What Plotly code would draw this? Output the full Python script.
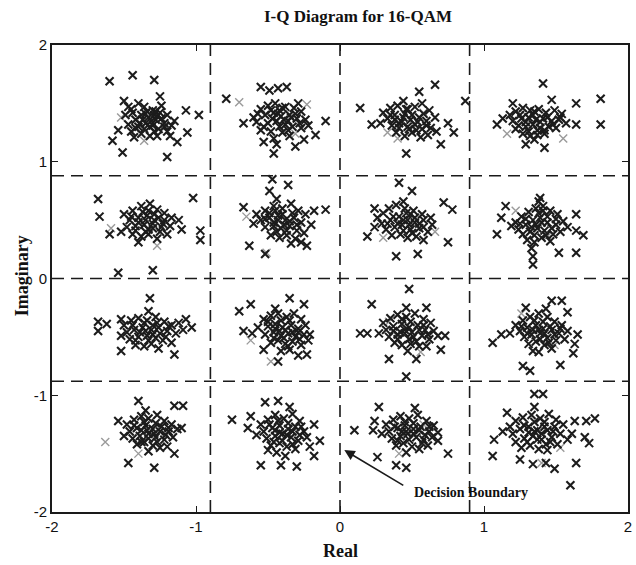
import plotly.graph_objects as go

# Received symbols (I, Q), grouped by the ideal 16-QAM point they belong to
sym_m3_p3 = [(-1.60, 1.69), (-1.44, 1.74), (-1.29, 1.70), (-1.51, 1.08), (-1.20, 1.04), (-1.58, 1.18),
             (-1.54, 1.27), (-0.98, 1.40), (-1.07, 1.44), (-1.06, 1.25), (-1.13, 1.17), (-1.50, 1.52),
             (-1.47, 1.47), (-1.25, 1.56),
             (-1.45, 1.45), (-1.40, 1.50), (-1.36, 1.47), (-1.30, 1.44), (-1.25, 1.42), (-1.20, 1.40),
             (-1.38, 1.40), (-1.33, 1.38), (-1.28, 1.36), (-1.22, 1.33), (-1.17, 1.31), (-1.42, 1.36),
             (-1.47, 1.32), (-1.40, 1.30), (-1.35, 1.33), (-1.30, 1.31), (-1.26, 1.28), (-1.20, 1.26),
             (-1.45, 1.26), (-1.38, 1.24), (-1.32, 1.22), (-1.27, 1.22), (-1.15, 1.35), (-1.34, 1.43),
             (-1.24, 1.48), (-1.49, 1.40), (-1.43, 1.21), (-1.29, 1.40), (-1.36, 1.28), (-1.18, 1.22),
             (-1.35, 1.41), (-1.31, 1.35), (-1.27, 1.39), (-1.39, 1.33), (-1.29, 1.26), (-1.24, 1.37),
             (-1.42, 1.29), (-1.32, 1.30), (-1.37, 1.36), (-1.22, 1.30), (-1.28, 1.43), (-1.44, 1.42)]
sym_m1_p3 = [(-0.79, 1.54), (-0.55, 1.64), (-0.49, 1.61), (-0.43, 1.63), (-0.37, 1.64), (-0.10, 1.35),
             (-0.17, 1.23), (-0.53, 1.17), (-0.44, 1.15), (-0.46, 1.07), (-0.31, 1.13), (-0.25, 1.19),
             (-0.67, 1.33),
             (-0.55, 1.45), (-0.50, 1.48), (-0.45, 1.50), (-0.38, 1.47), (-0.32, 1.46), (-0.27, 1.43),
             (-0.52, 1.40), (-0.46, 1.42), (-0.41, 1.39), (-0.35, 1.40), (-0.30, 1.37), (-0.24, 1.36),
             (-0.58, 1.34), (-0.50, 1.33), (-0.44, 1.35), (-0.38, 1.32), (-0.33, 1.30), (-0.27, 1.29),
             (-0.55, 1.27), (-0.48, 1.26), (-0.40, 1.25), (-0.35, 1.22), (-0.60, 1.38), (-0.42, 1.44),
             (-0.29, 1.50), (-0.22, 1.31), (-0.46, 1.20), (-0.36, 1.35),
             (-0.43, 1.41), (-0.39, 1.36), (-0.34, 1.38), (-0.47, 1.37), (-0.36, 1.27), (-0.31, 1.41),
             (-0.53, 1.30), (-0.42, 1.30), (-0.48, 1.44), (-0.28, 1.33), (-0.40, 1.46), (-0.57, 1.41)]
sym_p1_p3 = [(0.14, 1.46), (0.22, 1.32), (0.66, 1.66), (0.55, 1.60), (0.79, 1.25), (0.70, 1.15),
             (0.46, 1.07), (0.87, 1.52), (0.75, 1.33),
             (0.30, 1.42), (0.35, 1.46), (0.40, 1.48), (0.46, 1.45), (0.52, 1.47), (0.57, 1.50),
             (0.62, 1.44), (0.33, 1.37), (0.38, 1.40), (0.44, 1.38), (0.49, 1.36), (0.55, 1.38),
             (0.60, 1.35), (0.66, 1.38), (0.36, 1.31), (0.41, 1.33), (0.47, 1.30), (0.52, 1.32),
             (0.57, 1.28), (0.63, 1.29), (0.39, 1.25), (0.45, 1.22), (0.50, 1.25), (0.56, 1.21),
             (0.61, 1.23), (0.28, 1.33), (0.44, 1.52), (0.67, 1.26),
             (0.45, 1.41), (0.50, 1.40), (0.54, 1.34), (0.43, 1.34), (0.48, 1.28), (0.58, 1.41),
             (0.38, 1.36), (0.53, 1.27), (0.41, 1.29), (0.60, 1.31), (0.47, 1.45), (0.35, 1.40)]
sym_p3_p3 = [(1.41, 1.67), (1.81, 1.54), (1.81, 1.32), (1.64, 1.50), (1.64, 1.32), (1.20, 1.50),
             (1.09, 1.32), (1.29, 1.15), (1.42, 1.12), (1.47, 1.53),
             (1.18, 1.40), (1.22, 1.43), (1.27, 1.46), (1.32, 1.44), (1.38, 1.45), (1.43, 1.42),
             (1.49, 1.44), (1.54, 1.41), (1.20, 1.35), (1.26, 1.37), (1.31, 1.38), (1.36, 1.36),
             (1.41, 1.37), (1.47, 1.35), (1.52, 1.36), (1.24, 1.31), (1.29, 1.30), (1.34, 1.32),
             (1.39, 1.29), (1.45, 1.30), (1.50, 1.29), (1.27, 1.24), (1.32, 1.22), (1.37, 1.23),
             (1.42, 1.24), (1.13, 1.37), (1.57, 1.33), (1.35, 1.19),
             (1.34, 1.40), (1.39, 1.34), (1.44, 1.38), (1.29, 1.34), (1.37, 1.27), (1.48, 1.32),
             (1.25, 1.40), (1.42, 1.27), (1.31, 1.26), (1.53, 1.38), (1.35, 1.43), (1.22, 1.28)]
sym_m3_p1 = [(-1.68, 0.68), (-1.67, 0.53), (-1.02, 0.69), (-1.54, 0.05), (-1.30, 0.07), (-1.60, 0.38),
             (-0.97, 0.41), (-0.97, 0.33),
             (-1.50, 0.55), (-1.44, 0.58), (-1.38, 0.62), (-1.32, 0.64), (-1.27, 0.59), (-1.22, 0.56),
             (-1.17, 0.52), (-1.46, 0.50), (-1.40, 0.52), (-1.34, 0.54), (-1.29, 0.50), (-1.23, 0.47),
             (-1.18, 0.45), (-1.12, 0.50), (-1.48, 0.44), (-1.42, 0.45), (-1.36, 0.46), (-1.30, 0.43),
             (-1.25, 0.40), (-1.20, 0.38), (-1.44, 0.38), (-1.38, 0.36), (-1.33, 0.38), (-1.27, 0.34),
             (-1.40, 0.31), (-1.52, 0.40), (-1.10, 0.42), (-1.33, 0.58),
             (-1.35, 0.50), (-1.30, 0.47), (-1.26, 0.52), (-1.40, 0.48), (-1.33, 0.42), (-1.24, 0.44),
             (-1.45, 0.53), (-1.37, 0.57), (-1.29, 0.55), (-1.22, 0.50), (-1.42, 0.41), (-1.35, 0.40)]
sym_m1_p1 = [(-0.47, 0.85), (-0.36, 0.80), (-0.49, 0.75), (-0.10, 0.59), (-0.18, 0.58), (-0.63, 0.28),
             (-0.52, 0.21), (-0.67, 0.61), (-0.23, 0.28),
             (-0.58, 0.55), (-0.52, 0.58), (-0.46, 0.62), (-0.40, 0.60), (-0.34, 0.64), (-0.29, 0.58),
             (-0.24, 0.55), (-0.55, 0.50), (-0.49, 0.52), (-0.43, 0.54), (-0.38, 0.50), (-0.32, 0.52),
             (-0.27, 0.48), (-0.20, 0.46), (-0.52, 0.44), (-0.46, 0.45), (-0.41, 0.43), (-0.35, 0.45),
             (-0.30, 0.41), (-0.25, 0.39), (-0.48, 0.37), (-0.42, 0.35), (-0.37, 0.37), (-0.31, 0.34),
             (-0.27, 0.31), (-0.60, 0.47), (-0.44, 0.68), (-0.34, 0.30),
             (-0.43, 0.50), (-0.39, 0.46), (-0.35, 0.49), (-0.46, 0.48), (-0.40, 0.55), (-0.33, 0.56),
             (-0.49, 0.56), (-0.44, 0.40), (-0.37, 0.41), (-0.30, 0.46), (-0.52, 0.51), (-0.45, 0.58)]
sym_p1_p1 = [(0.41, 0.82), (0.50, 0.75), (0.19, 0.36), (0.78, 0.59), (0.72, 0.65), (0.39, 0.19),
             (0.54, 0.21), (0.75, 0.31), (0.24, 0.60),
             (0.26, 0.52), (0.30, 0.56), (0.34, 0.60), (0.39, 0.63), (0.45, 0.60), (0.51, 0.58),
             (0.57, 0.55), (0.63, 0.52), (0.29, 0.47), (0.35, 0.50), (0.41, 0.53), (0.47, 0.50),
             (0.52, 0.48), (0.58, 0.50), (0.64, 0.46), (0.32, 0.42), (0.38, 0.44), (0.43, 0.46),
             (0.49, 0.42), (0.55, 0.43), (0.61, 0.40), (0.36, 0.37), (0.42, 0.38), (0.47, 0.35),
             (0.53, 0.36), (0.24, 0.44), (0.44, 0.66), (0.58, 0.33),
             (0.44, 0.50), (0.48, 0.46), (0.52, 0.52), (0.40, 0.47), (0.46, 0.56), (0.55, 0.47),
             (0.37, 0.53), (0.44, 0.41), (0.50, 0.39), (0.58, 0.44), (0.33, 0.47), (0.49, 0.55)]
sym_p3_p1 = [(1.09, 0.38), (1.12, 0.52), (1.15, 0.62), (1.39, 0.69), (1.64, 0.55), (1.64, 0.41),
             (1.69, 0.37), (1.52, 0.22), (1.64, 0.22), (1.34, 0.12), (1.34, 0.19),
             (1.22, 0.48), (1.26, 0.53), (1.31, 0.57), (1.36, 0.60), (1.41, 0.62), (1.46, 0.58),
             (1.51, 0.55), (1.24, 0.42), (1.29, 0.46), (1.34, 0.50), (1.39, 0.52), (1.44, 0.48),
             (1.50, 0.46), (1.55, 0.49), (1.27, 0.38), (1.32, 0.40), (1.37, 0.43), (1.42, 0.41),
             (1.48, 0.38), (1.53, 0.40), (1.30, 0.33), (1.35, 0.31), (1.40, 0.35), (1.46, 0.32),
             (1.33, 0.26), (1.19, 0.45), (1.58, 0.44), (1.38, 0.66),
             (1.36, 0.46), (1.40, 0.48), (1.44, 0.53), (1.33, 0.44), (1.38, 0.56), (1.47, 0.43),
             (1.29, 0.51), (1.35, 0.37), (1.43, 0.37), (1.50, 0.51), (1.25, 0.47), (1.41, 0.58)]
sym_m3_m1 = [(-1.32, -0.17), (-1.68, -0.37), (-1.68, -0.45), (-1.62, -0.39), (-1.52, -0.62),
             (-1.03, -0.42), (-1.07, -0.35), (-1.15, -0.65), (-1.52, -0.35),
             (-1.50, -0.40), (-1.45, -0.36), (-1.40, -0.34), (-1.34, -0.36), (-1.28, -0.33),
             (-1.22, -0.37), (-1.17, -0.40), (-1.12, -0.38), (-1.48, -0.46), (-1.43, -0.44),
             (-1.37, -0.42), (-1.31, -0.44), (-1.26, -0.42), (-1.20, -0.45), (-1.14, -0.47),
             (-1.46, -0.52), (-1.40, -0.50), (-1.34, -0.49), (-1.28, -0.51), (-1.23, -0.53),
             (-1.17, -0.55), (-1.42, -0.57), (-1.36, -0.58), (-1.31, -0.56), (-1.26, -0.60),
             (-1.52, -0.49), (-1.09, -0.44), (-1.33, -0.28),
             (-1.35, -0.45), (-1.30, -0.48), (-1.25, -0.47), (-1.39, -0.46), (-1.33, -0.53),
             (-1.21, -0.50), (-1.44, -0.40), (-1.36, -0.38), (-1.27, -0.38), (-1.19, -0.41),
             (-1.42, -0.53), (-1.30, -0.40)]
sym_m1_m1 = [(-0.70, -0.28), (-0.62, -0.22), (-0.35, -0.17), (-0.25, -0.22), (-0.67, -0.45),
             (-0.61, -0.47), (-0.43, -0.71), (-0.29, -0.66), (-0.53, -0.61), (-0.21, -0.48),
             (-0.23, -0.65),
             (-0.53, -0.35), (-0.48, -0.32), (-0.43, -0.30), (-0.37, -0.33), (-0.32, -0.30),
             (-0.27, -0.35), (-0.50, -0.41), (-0.45, -0.39), (-0.40, -0.42), (-0.34, -0.40),
             (-0.29, -0.43), (-0.24, -0.40), (-0.52, -0.48), (-0.46, -0.46), (-0.41, -0.49),
             (-0.36, -0.47), (-0.31, -0.50), (-0.25, -0.48), (-0.48, -0.55), (-0.43, -0.53),
             (-0.38, -0.56), (-0.33, -0.54), (-0.27, -0.57), (-0.41, -0.62), (-0.35, -0.61),
             (-0.57, -0.42), (-0.22, -0.53), (-0.45, -0.26),
             (-0.42, -0.45), (-0.38, -0.44), (-0.33, -0.46), (-0.45, -0.43), (-0.39, -0.51),
             (-0.29, -0.46), (-0.50, -0.37), (-0.41, -0.36), (-0.35, -0.36), (-0.28, -0.52),
             (-0.46, -0.51), (-0.36, -0.58)]
sym_p1_m1 = [(0.48, -0.09), (0.22, -0.22), (0.14, -0.47), (0.19, -0.47), (0.68, -0.49), (0.73, -0.49),
             (0.46, -0.84), (0.34, -0.69), (0.53, -0.69), (0.60, -0.25), (0.70, -0.61),
             (0.30, -0.38), (0.35, -0.34), (0.40, -0.31), (0.46, -0.33), (0.52, -0.30), (0.58, -0.35),
             (0.63, -0.38), (0.32, -0.44), (0.37, -0.41), (0.43, -0.39), (0.48, -0.42), (0.54, -0.40),
             (0.59, -0.44), (0.65, -0.45), (0.34, -0.50), (0.40, -0.48), (0.45, -0.47), (0.51, -0.50),
             (0.57, -0.49), (0.62, -0.52), (0.38, -0.55), (0.43, -0.57), (0.49, -0.56), (0.55, -0.58),
             (0.47, -0.62), (0.27, -0.47), (0.46, -0.25), (0.60, -0.58),
             (0.45, -0.44), (0.50, -0.46), (0.55, -0.44), (0.42, -0.46), (0.48, -0.52), (0.58, -0.40),
             (0.37, -0.45), (0.43, -0.35), (0.49, -0.37), (0.53, -0.54), (0.61, -0.48), (0.40, -0.52)]
sym_p3_m1 = [(1.06, -0.55), (1.12, -0.48), (1.29, -0.25), (1.47, -0.19), (1.54, -0.19), (1.58, -0.29),
             (1.65, -0.48), (1.63, -0.56), (1.62, -0.64), (1.53, -0.74), (1.32, -0.79), (1.27, -0.75),
             (1.22, -0.40), (1.27, -0.36), (1.32, -0.33), (1.38, -0.30), (1.44, -0.33), (1.49, -0.37),
             (1.54, -0.40), (1.25, -0.45), (1.30, -0.42), (1.36, -0.40), (1.41, -0.43), (1.47, -0.44),
             (1.52, -0.47), (1.58, -0.45), (1.28, -0.50), (1.33, -0.48), (1.39, -0.47), (1.44, -0.51),
             (1.50, -0.53), (1.31, -0.56), (1.36, -0.54), (1.42, -0.57), (1.47, -0.60), (1.38, -0.63),
             (1.18, -0.47), (1.43, -0.26), (1.56, -0.52), (1.34, -0.62),
             (1.38, -0.44), (1.42, -0.47), (1.46, -0.41), (1.34, -0.44), (1.39, -0.52), (1.49, -0.48),
             (1.30, -0.47), (1.35, -0.36), (1.41, -0.37), (1.45, -0.55), (1.26, -0.41), (1.53, -0.43)]
sym_m3_m3 = [(-1.40, -1.05), (-1.09, -1.09), (-1.15, -1.09), (-1.10, -1.28), (-1.47, -1.58),
             (-1.29, -1.62), (-1.54, -1.22), (-1.15, -1.50),
             (-1.48, -1.25), (-1.43, -1.21), (-1.38, -1.18), (-1.33, -1.20), (-1.27, -1.17),
             (-1.22, -1.22), (-1.17, -1.25), (-1.46, -1.31), (-1.41, -1.28), (-1.35, -1.26),
             (-1.30, -1.29), (-1.24, -1.27), (-1.19, -1.31), (-1.13, -1.29), (-1.44, -1.37),
             (-1.39, -1.35), (-1.33, -1.33), (-1.28, -1.36), (-1.22, -1.38), (-1.16, -1.36),
             (-1.41, -1.42), (-1.36, -1.40), (-1.30, -1.43), (-1.25, -1.45), (-1.33, -1.48),
             (-1.50, -1.35), (-1.20, -1.44), (-1.35, -1.13),
             (-1.34, -1.30), (-1.29, -1.33), (-1.25, -1.31), (-1.38, -1.30), (-1.33, -1.37),
             (-1.21, -1.34), (-1.43, -1.26), (-1.36, -1.23), (-1.28, -1.24), (-1.19, -1.28),
             (-1.38, -1.40), (-1.27, -1.40)]
sym_m1_m3 = [(-0.75, -1.21), (-0.52, -1.06), (-0.43, -1.05), (-0.64, -1.28), (-0.18, -1.25),
             (-0.14, -1.39), (-0.18, -1.52), (-0.55, -1.60), (-0.41, -1.60), (-0.30, -1.61),
             (-0.62, -1.18),
             (-0.55, -1.25), (-0.50, -1.21), (-0.45, -1.17), (-0.39, -1.20), (-0.33, -1.16),
             (-0.28, -1.22), (-0.53, -1.31), (-0.47, -1.28), (-0.42, -1.26), (-0.36, -1.29),
             (-0.31, -1.27), (-0.25, -1.31), (-0.51, -1.37), (-0.45, -1.35), (-0.40, -1.33),
             (-0.34, -1.36), (-0.29, -1.39), (-0.23, -1.36), (-0.48, -1.43), (-0.42, -1.41),
             (-0.37, -1.44), (-0.31, -1.46), (-0.44, -1.49), (-0.38, -1.52), (-0.58, -1.34),
             (-0.21, -1.44), (-0.35, -1.10), (-0.50, -1.47),
             (-0.42, -1.32), (-0.37, -1.34), (-0.33, -1.31), (-0.45, -1.30), (-0.40, -1.39),
             (-0.28, -1.34), (-0.49, -1.25), (-0.43, -1.22), (-0.36, -1.24), (-0.27, -1.27),
             (-0.46, -1.40), (-0.33, -1.42)]
sym_p1_m3 = [(0.10, -1.30), (0.27, -1.10), (0.24, -1.22), (0.23, -1.30), (0.26, -1.53), (0.39, -1.60),
             (0.46, -1.62), (0.75, -1.50), (0.52, -1.11), (0.68, -1.39),
             (0.32, -1.25), (0.37, -1.21), (0.42, -1.18), (0.48, -1.20), (0.54, -1.17), (0.60, -1.22),
             (0.65, -1.26), (0.34, -1.31), (0.40, -1.28), (0.45, -1.26), (0.51, -1.29), (0.56, -1.27),
             (0.62, -1.31), (0.36, -1.37), (0.42, -1.35), (0.47, -1.33), (0.53, -1.36), (0.58, -1.38),
             (0.64, -1.36), (0.39, -1.43), (0.44, -1.41), (0.50, -1.44), (0.55, -1.46), (0.61, -1.43),
             (0.46, -1.49), (0.29, -1.33), (0.68, -1.32),
             (0.46, -1.31), (0.51, -1.33), (0.55, -1.30), (0.43, -1.31), (0.48, -1.38), (0.59, -1.34),
             (0.38, -1.27), (0.45, -1.23), (0.51, -1.24), (0.57, -1.41), (0.40, -1.39), (0.62, -1.27)]
sym_p3_m3 = [(1.35, -0.99), (1.41, -0.99), (1.16, -1.15), (1.06, -1.52), (1.07, -1.38), (1.25, -1.55),
             (1.34, -1.59), (1.43, -1.58), (1.49, -1.63), (1.64, -1.58), (1.60, -1.77), (1.63, -1.22),
             (1.71, -1.22), (1.77, -1.20), (1.70, -1.36), (1.73, -1.41), (1.61, -1.33),
             (1.18, -1.27), (1.22, -1.22), (1.27, -1.19), (1.33, -1.17), (1.39, -1.20), (1.45, -1.16),
             (1.50, -1.21), (1.55, -1.25), (1.20, -1.33), (1.25, -1.29), (1.31, -1.27), (1.37, -1.30),
             (1.42, -1.27), (1.48, -1.31), (1.53, -1.33), (1.22, -1.40), (1.28, -1.37), (1.34, -1.35),
             (1.40, -1.38), (1.46, -1.40), (1.51, -1.42), (1.26, -1.45), (1.32, -1.43), (1.38, -1.46),
             (1.44, -1.47), (1.13, -1.31), (1.58, -1.38), (1.35, -1.10),
             (1.35, -1.31), (1.40, -1.33), (1.44, -1.30), (1.31, -1.32), (1.37, -1.38), (1.47, -1.36),
             (1.28, -1.26), (1.35, -1.23), (1.42, -1.23), (1.49, -1.27), (1.30, -1.40), (1.43, -1.42)]

# Faint symbols printed in light grey
faint_syms = [(-1.52, 1.38), (-1.21, 1.30), (-1.36, 1.18), (-0.70, 1.51), (-0.23, 1.49), (-0.31, 1.24),
              (0.40, 1.20), (0.58, 1.42), (0.33, 1.25), (1.16, 1.24), (1.55, 1.20), (1.29, 1.40),
              (-1.59, 0.43), (-1.27, 0.28), (-0.65, 0.53), (-0.51, 0.22), (-0.28, 0.44),
              (0.30, 0.35), (0.66, 0.40), (1.22, 0.58), (1.44, 0.36), (-1.63, -1.40), (-1.29, -0.46),
              (-0.62, -0.53), (-0.48, -0.71), (0.56, -0.63), (0.34, -0.37), (1.26, -0.30), (1.49, -0.57),
              (-1.40, -1.50), (-0.30, -1.32), (0.41, -1.50), (0.58, -1.25), (1.40, -1.58), (1.53, -1.45)]

tick_vals = [-2, -1, 0, 1, 2]
tick_text = ["-2", "-1", "0", "1", "2"]

# Decision boundaries between constellation points
boundaries_i = [-0.9, 0.0, 0.9]
boundaries_q = [-0.88, 0.0, 0.88]

received = (sym_m3_p3 + sym_m1_p3 + sym_p1_p3 + sym_p3_p3 + sym_m3_p1 + sym_m1_p1 + sym_p1_p1 + sym_p3_p1 +
            sym_m3_m1 + sym_m1_m1 + sym_p1_m1 + sym_p3_m1 + sym_m3_m3 + sym_m1_m3 + sym_p1_m3 + sym_p3_m3)

fig = go.Figure()
fig.add_trace(go.Scatter(
    x=[p[0] for p in faint_syms], y=[p[1] for p in faint_syms], mode="markers",
    marker=dict(symbol="x-thin", size=8, line=dict(width=1.4, color="#9a9a9a")),
    hoverinfo="skip", showlegend=False))
fig.add_trace(go.Scatter(
    x=[p[0] for p in received], y=[p[1] for p in received], mode="markers",
    marker=dict(symbol="x-thin", size=8, line=dict(width=2.1, color="#1c1c1c")),
    showlegend=False))

dash_style = dict(color="#1a1a1a", width=1.6, dash="12px,7px")
for b in boundaries_i:
    fig.add_shape(type="line", xref="x", yref="y", x0=b, x1=b, y0=-2, y1=2, line=dash_style, layer="below")
for b in boundaries_q:
    fig.add_shape(type="line", xref="x", yref="y", x0=-2, x1=2, y0=b, y1=b, line=dash_style, layer="below")

serif = "Liberation Serif, Times New Roman, serif"
sans = "Liberation Sans, Arial, sans-serif"

fig.add_annotation(x=0.03, y=-1.47, ax=0.45, ay=-1.78, xref="x", yref="y", axref="x", ayref="y",
                   text="", showarrow=True, arrowhead=2, arrowsize=1.3, arrowwidth=1.6, arrowcolor="#1a1a1a")
fig.add_annotation(x=0.50, y=-1.83, xref="x", yref="y", text="<b>Decision Boundary</b>", showarrow=False,
                   xanchor="left", yanchor="middle", font=dict(family=serif, size=14, color="#111"))

# Axis titles, positioned in plot-area fractions
fig.add_annotation(x=(343 - 52) / 580, y=(512 - 551) / 467, xref="paper", yref="paper", text="<b>Real</b>",
                   showarrow=False, xanchor="center", yanchor="middle",
                   font=dict(family=serif, size=18, color="#111"))
fig.add_annotation(x=(22 - 52) / 580, y=(512 - 276) / 467, xref="paper", yref="paper", text="<b>Imaginary</b>",
                   showarrow=False, textangle=-90, xanchor="center", yanchor="middle",
                   font=dict(family=serif, size=18, color="#111"))

axis_common = dict(range=[-2, 2], tickvals=tick_vals, ticktext=tick_text, ticks="inside", ticklen=6,
                   tickwidth=1.4, tickcolor="#1a1a1a", showline=True, linecolor="#1a1a1a", linewidth=1.6,
                   mirror="ticks", showgrid=False, zeroline=False,
                   tickfont=dict(family=sans, size=15, color="#111"))

fig.update_layout(
    width=636, height=565,
    margin=dict(l=52, r=4, t=45, b=53),
    paper_bgcolor="white", plot_bgcolor="white",
    title=dict(text="<b>I-Q Diagram for 16-QAM</b>", x=358 / 636, xanchor="center",
               y=1 - 16 / 565, yanchor="middle", font=dict(family=serif, size=17, color="#111")),
    xaxis=axis_common,
    yaxis=axis_common,
)

fig.write_html("out.html")
